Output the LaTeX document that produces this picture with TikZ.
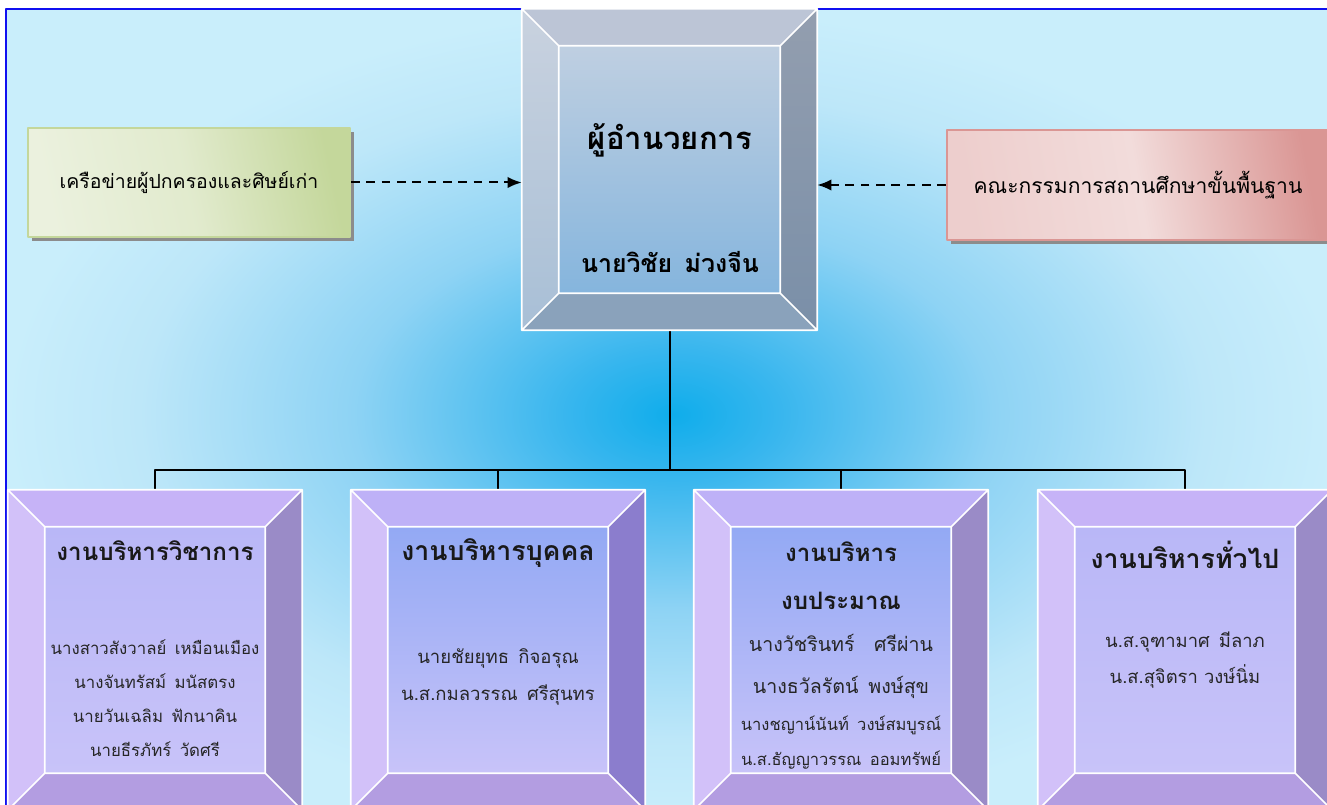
\documentclass[tikz,border=0pt]{standalone}
\usepackage{fontspec}
\newfontfamily\thaifont[Script=Thai]{Loma}
\usepackage{tikz}
\usetikzlibrary{arrows.meta}
\usetikzlibrary{calc, shadows}

\definecolor{glowA}{HTML}{0FADEB}
\definecolor{glowB}{HTML}{38B6EE}
\definecolor{glowC}{HTML}{8ED3F4}
\definecolor{glowD}{HTML}{BDE7F9}
\definecolor{glowE}{HTML}{C9EEFB}
\definecolor{frameblue}{HTML}{1010F0}
\definecolor{dirTop}{HTML}{BCC5D6}
\definecolor{dirLeftA}{HTML}{C9D2DF}
\definecolor{dirLeftB}{HTML}{A8BFD6}
\definecolor{dirRightA}{HTML}{939EAF}
\definecolor{dirRightB}{HTML}{7A8FA8}
\definecolor{dirBottom}{HTML}{8AA2BB}
\definecolor{dirInA}{HTML}{BFCFE1}
\definecolor{dirInB}{HTML}{85B5DD}
\definecolor{wkTop}{HTML}{C6B3F7}
\definecolor{wkLeft}{HTML}{D2C1F9}
\definecolor{wkRight}{HTML}{9A8BC7}
\definecolor{wkBottom}{HTML}{B39DE1}
\definecolor{wkInA}{HTML}{B9B7F7}
\definecolor{wkInB}{HTML}{C8C3F9}
\definecolor{wkInBlue}{HTML}{93A9F4}
\definecolor{netDark}{HTML}{C4D79B}
\definecolor{netLight}{HTML}{EBF1DE}
\definecolor{netMid}{HTML}{DCE7C4}
\definecolor{boardDark}{HTML}{DA9694}
\definecolor{boardLight}{HTML}{F2DCDB}

\pgfdeclareradialshading{bgglow}{\pgfpoint{0bp}{0bp}}{color(0bp)=(glowA); color(4bp)=(glowB); color(12bp)=(glowC); color(20bp)=(glowD); color(25bp)=(glowE); color(50bp)=(glowE)}

% bevelled frame round a node: top, left, right, bottom face, inner top/bottom colour
\newcommand{\bevelframe}[7]{%
  \fill[#2] (#1.north west) -- (#1.north east) -- ($(#1.north east)+(-37,37)$) -- ($(#1.north west)+(37,37)$) -- cycle;
  \fill[#3] (#1.north west) -- ($(#1.north west)+(37,37)$) -- ($(#1.south west)+(37,-37)$) -- (#1.south west) -- cycle;
  \fill[#4] (#1.north east) -- (#1.south east) -- ($(#1.south east)+(-37,-37)$) -- ($(#1.north east)+(-37,37)$) -- cycle;
  \fill[#5] (#1.south west) -- (#1.south east) -- ($(#1.south east)+(-37,-37)$) -- ($(#1.south west)+(37,-37)$) -- cycle;
  \shade[top color=#6, bottom color=#7] ($(#1.north west)+(37,37)$) rectangle ($(#1.south east)+(-37,-37)$);
  \draw[white, line width=1.2pt] (#1.north west) rectangle (#1.south east)
    ($(#1.north west)+(37,37)$) rectangle ($(#1.south east)+(-37,-37)$)
    (#1.north west) -- ++(37,37) (#1.north east) -- ++(-37,37)
    (#1.south east) -- ++(-37,-37) (#1.south west) -- ++(37,-37);
}

\begin{document}
\begin{tikzpicture}[>={Latex[length=10.5pt,width=8.5pt]},line join=bevel,x=0.75pt,y=-0.75pt,
  frame/.style={draw=none, inner sep=0pt, minimum width=#1},
  sidebox/.style={inner sep=0pt, line width=1.5pt, minimum height=81.75pt,
    drop shadow={shadow xshift=3pt, shadow yshift=-3pt, fill=black!45, opacity=1}},
  head/.style={font=\thaifont\bfseries\fontsize{#1}{36}\selectfont, align=center, text=black!90},
  names/.style={font=\thaifont\fontsize{#1}{27}\selectfont, align=center, text=black!85}]
\clip (0,0) rectangle (1327,805);
%% background
\shade[shading=bgglow] (6,9) rectangle (1340,820);
\draw[frameblue, line width=1.5pt] (6,820) -- (6,9) -- (1340,9);
%%
\node (node_dir) at (669.5,169.5) [frame=221.25pt, minimum height=240.75pt] {};
  \node (node_b1) at (155,650) [frame=220.5pt, minimum height=240pt] {};
  \node (node_b2) at (498,650) [frame=220.5pt, minimum height=240pt] {};
  \node (node_b3) at (841,650) [frame=220.5pt, minimum height=240pt] {};
  \node (node_b4) at (1185,650) [frame=220.5pt, minimum height=240pt] {};
  \node (node_net) at (189,182.5) [sidebox, minimum width=241.5pt, draw=netDark,
    top color=netDark, bottom color=netLight, middle color=netLight!75!netDark, shading angle=-78,
    font=\thaifont\fontsize{14.6}{16}\selectfont] {เครือข่ายผู้ปกครองและศิษย์เก่า};
  \node (node_board) at (1138,185) [sidebox, minimum width=286.5pt, minimum height=82.5pt, draw=boardDark,
    top color=boardDark, bottom color=boardLight!80!boardDark, middle color=boardLight, shading angle=-80,
    font=\thaifont\fontsize{15.8}{18}\selectfont] {คณะกรรมการสถานศึกษาขั้นพื้นฐาน};
%% tree lines
  \draw [black,line width=1.5pt] (node_dir.south) -- ++(0,140) -| (node_b1.north);
  \draw [black,line width=1.5pt] (node_dir.south) -- ++(0,140) -| (node_b2.north);
  \draw [black,line width=1.5pt] (node_dir.south) -- ++(0,140) -| (node_b3.north);
  \draw [black,line width=1.5pt] (node_dir.south) -- ++(0,140) -| (node_b4.north);
%% frames
  \bevelframe{node_dir}{dirTop}{top color=dirLeftA, bottom color=dirLeftB}{top color=dirRightA, bottom color=dirRightB}{dirBottom}{dirInA}{dirInB}
  \bevelframe{node_b1}{wkTop}{wkLeft}{wkRight}{wkBottom}{wkInA}{wkInB}
  \bevelframe{node_b2}{wkTop!85!wkInBlue}{wkLeft}{wkRight!90!blue}{wkBottom}{wkInBlue}{wkInB}
  \bevelframe{node_b3}{wkTop!85!wkInBlue}{wkLeft}{wkRight}{wkBottom}{wkInBlue}{wkInB}
  \bevelframe{node_b4}{wkTop}{wkLeft}{wkRight}{wkBottom}{wkInA}{wkInB}
%% texts
  \node (node_dir_t) at (670,140) [font=\thaifont\bfseries\fontsize{23.3}{26}\selectfont] {ผู้อำนวยการ};
  \node (node_dir_n) at (670,262) [font=\thaifont\bfseries\fontsize{18.7}{20}\selectfont] {นายวิชัย\enspace ม่วงจีน};
  \node (node_b1_t) at (155,551) [head=18.1] {งานบริหารวิชาการ};
  \node (node_b1_n) at (155,698) [names=12.6, font=\thaifont\fontsize{12.6}{25.5}\selectfont] {นางสาวสังวาลย์\enspace เหมือนเมือง\\นางจันทรัสม์\enspace มนัสตรง\\นายวันเฉลิม\enspace ฟักนาคิน\\นายธีรภัทร์\enspace วัดศรี};
  \node (node_b2_t) at (498,553) [head=20] {งานบริหารบุคคล};
  \node (node_b2_n) at (498,676.5) [names=13.9, font=\thaifont\fontsize{13.9}{27.75}\selectfont] {นายชัยยุทธ\enspace กิจอรุณ\\น.ส.กมลวรรณ\enspace ศรีสุนทร};
  \node (node_b3_t) at (841,576) [head=18] {งานบริหาร\\งบประมาณ};
  \node (node_b3_n) at (841,666) [names=14.7, font=\thaifont\fontsize{14.7}{31.5}\selectfont] {นางวัชรินทร์\quad ศรีผ่าน\\นางธวัลรัตน์\enspace พงษ์สุข};
  \node (node_b3_m) at (841,742.5) [names=12.4, font=\thaifont\fontsize{12.4}{26}\selectfont] {นางชญาน์นันท์\enspace วงษ์สมบูรณ์\\น.ส.ธัญญาวรรณ\enspace ออมทรัพย์};
  \node (node_b4_t) at (1185,555) [head=20] {งานบริหารทั่วไป};
  \node (node_b4_n) at (1185,660) [names=13.8, font=\thaifont\fontsize{13.8}{27}\selectfont] {น.ส.จุฑามาศ\enspace มีลาภ\\น.ส.สุจิตรา วงษ์นิ่ม};
%% dashed links
  \draw [black,->,line width=1.5pt,dash pattern=on 6.5pt off 5pt] (node_net.east) -- (node_dir.west |- node_net.east);
  \draw [black,->,line width=1.5pt,dash pattern=on 6.5pt off 5pt] (node_board.west) -- (node_dir.east |- node_board.west);
%
\end{tikzpicture}
\end{document}
